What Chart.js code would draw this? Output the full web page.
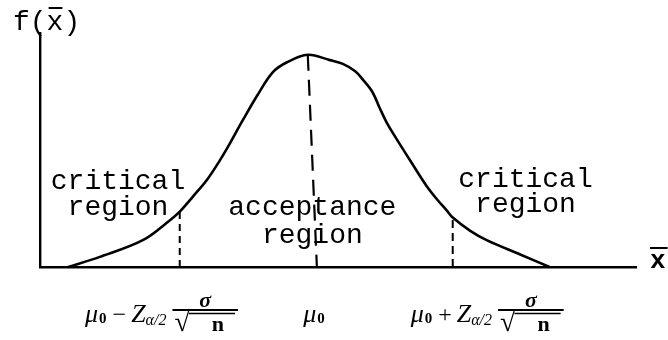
<!DOCTYPE html>
<html>
<head>
<meta charset="utf-8">
<script src="https://cdn.jsdelivr.net/npm/chart.js@4/dist/chart.umd.min.js"></script>
<style>
  html, body { margin: 0; padding: 0; background: #fff; }
  #wrap { width: 668px; height: 340px; }
</style>
</head>
<body>
<div id="wrap"><canvas id="c" width="668" height="340"></canvas></div>
<script>
// Sampling distribution of the sample mean, in standard-error units about mu0
const densityX = [-3.69, -3.2, -2.53, -2.12, -1.97, -1.77, -1.55, -1.35, -1.2, -1.0, -0.78, -0.54, -0.32, 0, 0.34, 0.54, 0.73, 0.85, 0.99, 1.11, 1.23, 1.37, 1.53, 1.68, 1.83, 1.99, 2.14, 2.23, 2.5, 2.76, 3.26, 3.72];
const densityY = [0, 0.019, 0.051, 0.088, 0.104, 0.132, 0.164, 0.201, 0.232, 0.276, 0.322, 0.366, 0.385, 0.399, 0.389, 0.382, 0.368, 0.352, 0.330, 0.298, 0.268, 0.240, 0.209, 0.180, 0.152, 0.127, 0.106, 0.093, 0.068, 0.050, 0.024, 0];

// Critical values (lower, upper) and the curve height there
const criticalX = [-1.97, 2.23];
const criticalY = [0.104, 0.093];

// Mean line: top at the peak, foot on the axis
const meanX = [0, 0.14];
const meanY = [0.399, 0];

// Region names and axis labels
const regionLabels = [['critical', 'region'], ['acceptance', 'region'], ['critical', 'region']];
const tickSigns = ['\u2212', '', '+'];          // mu0 - Z sigma/sqrt n, mu0, mu0 + Z sigma/sqrt n
const yAxisLabel = ['f(', 'x', ')'];
const xAxisLabel = 'x';

const toPoints = (xs, ys) => xs.map((x, i) => ({ x: x, y: ys[i] }));

const annotate = {
  id: 'annotate',
  afterDraw(chart) {
    const ctx = chart.ctx;
    const xs = chart.scales.x, ys = chart.scales.y;
    const area = chart.chartArea;
    ctx.save();
    ctx.fillStyle = '#000';
    ctx.strokeStyle = '#000';

    // region names
    ctx.font = '28px "Liberation Mono"';
    ctx.textAlign = 'center';
    ctx.textBaseline = 'alphabetic';
    const regionPos = [
      { x: -2.92, y: [0.147, 0.098] },
      { x: 0.07, y: [0.098, 0.045] },
      { x: 3.35, y: [0.150, 0.103] }
    ];
    regionLabels.forEach((lines, i) => {
      const p = regionPos[i];
      lines.forEach((t, j) => {
        ctx.fillText(t, xs.getPixelForValue(p.x), ys.getPixelForValue(p.y[j]));
      });
    });

    // y-axis title f(x-bar)
    ctx.textAlign = 'left';
    ctx.font = '28px "Liberation Mono"';
    let tx = 13;
    const tb = 30;
    ctx.fillText(yAxisLabel[0], tx, tb);
    tx += ctx.measureText(yAxisLabel[0]).width;
    const xw = ctx.measureText(yAxisLabel[1]).width;
    ctx.fillText(yAxisLabel[1], tx, tb);
    ctx.lineWidth = 2;
    ctx.beginPath();
    ctx.moveTo(tx + 2, 8);
    ctx.lineTo(tx + xw - 1, 8);
    ctx.stroke();
    tx += xw;
    ctx.fillText(yAxisLabel[2], tx, tb);

    // x-axis title x-bar
    ctx.font = 'bold 26px "Liberation Mono"';
    const bx = area.right + 14;
    ctx.fillText(xAxisLabel, bx, area.bottom + 1);
    const bw = ctx.measureText(xAxisLabel).width;
    ctx.lineWidth = 2;
    ctx.beginPath();
    ctx.moveTo(bx, area.bottom - 19);
    ctx.lineTo(bx + bw + 2, area.bottom - 19);
    ctx.stroke();

    // axis labels under the three reference values
    const labelAt = [-2.25, 0.095, 2.76];
    tickSigns.forEach((s, i) => {
      drawMath(ctx, xs.getPixelForValue(labelAt[i]), area.bottom + 55, s);
    });
    ctx.restore();
  }
};

function drawMath(ctx, cx, base, sign) {
  const serif = '"Liberation Serif"';
  const parts = [
    { t: '\u03bc', f: 'italic 26px ' + serif, dy: 0, pad: 0 },
    { t: '0', f: 'bold 15px ' + serif, dy: 1, pad: 1 }
  ];
  if (sign) {
    parts.push({ t: sign, f: '24px ' + serif, dy: 0, pad: 6 });
    parts.push({ t: 'Z', f: 'italic 26px ' + serif, dy: 0, pad: 5 });
    parts.push({ t: '\u03b1/2', f: 'italic 16px ' + serif, dy: 3, pad: 0 });
  }
  let total = 0;
  parts.forEach(p => { ctx.font = p.f; p.w = ctx.measureText(p.t).width; total += p.pad + p.w; });

  let fracW = 0, rootW = 0, nW = 0;
  const gap = 6;
  const rootFont = '28px ' + serif;
  const nFont = 'bold 22px ' + serif;
  if (sign) {
    ctx.font = rootFont; rootW = ctx.measureText('\u221a').width;
    ctx.font = nFont; nW = ctx.measureText('n').width;
    fracW = rootW + 24 + nW + 14;
    total += gap + fracW;
  }
  let x = cx - total / 2;
  ctx.textAlign = 'left';
  ctx.textBaseline = 'alphabetic';
  parts.forEach(p => {
    x += p.pad;
    ctx.font = p.f;
    ctx.fillText(p.t, x, base + p.dy);
    x += p.w;
  });
  if (sign) {
    x += gap;
    const barY = base - 12;
    ctx.lineWidth = 1.8;
    ctx.beginPath();
    ctx.moveTo(x, barY);
    ctx.lineTo(x + fracW, barY);
    ctx.stroke();
    // numerator sigma
    ctx.font = 'bold italic 22px ' + serif;
    ctx.textAlign = 'center';
    ctx.fillText('\u03c3', x + fracW * 0.5, barY - 3);
    // denominator root n
    ctx.textAlign = 'left';
    const rx = x + 2;
    ctx.font = rootFont;
    ctx.fillText('\u221a', rx, base + 9);
    ctx.lineWidth = 1.4;
    ctx.beginPath();
    ctx.moveTo(rx + rootW - 1, barY + 3.5);
    ctx.lineTo(x + fracW - 3, barY + 3.5);
    ctx.stroke();
    ctx.font = nFont;
    ctx.fillText('n', rx + rootW + 22, base + 9);
  }
}

new Chart(document.getElementById('c'), {
  type: 'scatter',
  data: {
    datasets: [
      {
        data: toPoints(densityX, densityY),
        showLine: true,
        borderColor: '#000',
        borderWidth: 2.6,
        pointRadius: 0,
        tension: 0.35,
        clip: false
      },
      {
        data: toPoints([criticalX[0], criticalX[0]], [0, criticalY[0]]),
        showLine: true, borderColor: '#000', borderWidth: 2, pointRadius: 0,
        borderDash: [7, 5], clip: false
      },
      {
        data: toPoints([criticalX[1], criticalX[1]], [0, criticalY[1]]),
        showLine: true, borderColor: '#000', borderWidth: 2, pointRadius: 0,
        borderDash: [8, 5], clip: false
      },
      {
        data: toPoints(meanX, meanY),
        showLine: true, borderColor: '#000', borderWidth: 2.2, pointRadius: 0,
        borderDash: [16, 9], clip: false
      }
    ]
  },
  options: {
    responsive: false,
    animation: false,
    devicePixelRatio: 1,
    layout: { padding: { left: 40, right: 32, top: 33, bottom: 73 } },
    plugins: { legend: { display: false }, tooltip: { enabled: false } },
    scales: {
      x: {
        type: 'linear', min: -4.12, max: 5.05,
        grid: { display: false, drawTicks: false },
        ticks: { display: false },
        border: { display: true, color: '#000', width: 2.6 }
      },
      y: {
        type: 'linear', min: 0, max: 0.44,
        grid: { display: false, drawTicks: false },
        ticks: { display: false },
        border: { display: true, color: '#000', width: 2.4 }
      }
    }
  },
  plugins: [annotate]
});
</script>
</body>
</html>
